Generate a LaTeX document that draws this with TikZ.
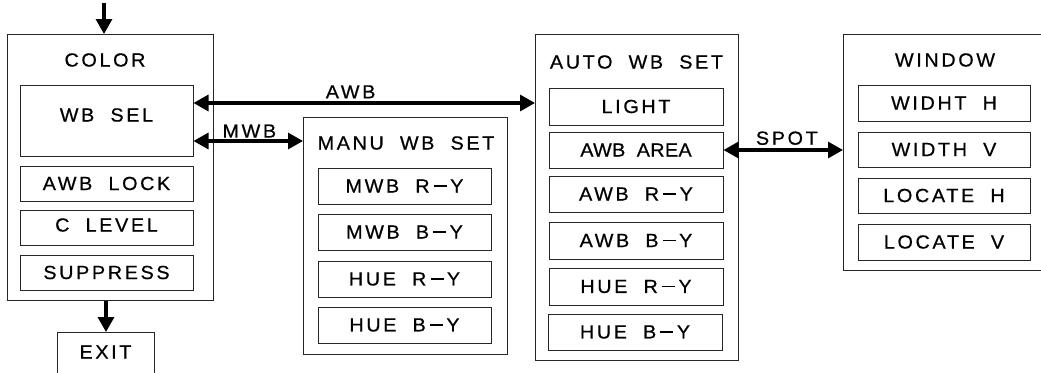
\documentclass[tikz,border=0pt]{standalone}
\usepackage{fontspec}
\setmainfont{Liberation Sans}[LetterSpace=14, FakeStretch=1.04, FakeBold=0.6]
\usetikzlibrary{arrows.meta,calc}
\newcommand\wsp{\hspace{0.85em}}
\newcommand\dsh{\hspace{0.22em}\rule[5.8pt]{13pt}{1.6pt}\hspace{0.18em}}
\begin{document}
\begin{tikzpicture}[x=1pt,y=-1pt,
  lbl/.style={font=\fontsize{19}{22}\selectfont, inner sep=0pt},
  obox/.style={draw=black!85, line width=1pt, anchor=north west, inner sep=0pt},
  ibox/.style={draw=black!85, line width=1pt, inner sep=0pt, font=\fontsize{19}{22}\selectfont},
  tip/.tip={Triangle[length=15pt,width=16pt]},
  arr/.style={line width=3.2pt, -tip},
  darr/.style={line width=3.2pt, tip-tip}]
\useasboundingbox (0,0) rectangle (1041,372);
% COLOR menu
\node[obox, minimum width=206pt, minimum height=266pt] (color) at (7,34) {};
\node[lbl] (colort) at (105,60) {COLOR};
\node[ibox, minimum width=173pt, minimum height=71pt] (wbsel) at (106.5,120.5) {};
\node[lbl] (wbselt) at (106.5,115) {WB\wsp SEL};
\node[ibox, minimum width=173pt, minimum height=35pt] (awblock) at (106.5,183.5) {AWB\wsp LOCK};
\node[ibox, minimum width=173pt, minimum height=35pt] (clevel) at (106.5,227.5) {};
\node[lbl] (clevelt) at (106.5,225) {C\wsp LEVEL};
\node[ibox, minimum width=173pt, minimum height=35pt] (suppress) at (106.5,272.5) {SUPPRESS};
% EXIT
\node[obox, minimum width=97pt, minimum height=50pt] (exit) at (57,332) {};
\node[lbl] (exitt) at (105.5,352) {EXIT};
% MANU WB SET
\node[obox, minimum width=204pt, minimum height=237pt] (manu) at (303,117) {};
\node[lbl] (manut) at (406,143) {MANU\wsp WB\wsp SET};
\node[ibox, minimum width=173pt, minimum height=36pt] (mwbr) at (404.5,186) {MWB\wsp R\dsh Y};
\node[ibox, minimum width=173pt, minimum height=36pt] (mwbb) at (404.5,232) {MWB\wsp B\dsh Y};
\node[ibox, minimum width=173pt, minimum height=36pt] (huermanu) at (404.5,279) {HUE\wsp R\dsh Y};
\node[ibox, minimum width=173pt, minimum height=36pt] (huebmanu) at (404.5,325) {HUE\wsp B\dsh Y};
% AUTO WB SET
\node[obox, minimum width=203pt, minimum height=326pt] (auto) at (535,34) {};
\node[lbl] (autot) at (636.5,62) {AUTO\wsp WB\wsp SET};
\node[ibox, minimum width=174pt, minimum height=37pt] (light) at (636,106.5) {LIGHT};
\node[ibox, minimum width=174pt, minimum height=36pt] (awbarea) at (636,150) {\addfontfeature{LetterSpace=2}AWB\hspace{0.6em}AREA};
\node[ibox, minimum width=174pt, minimum height=36pt] (awbr) at (636,194) {AWB\wsp R\dsh Y};
\node[ibox, minimum width=174pt, minimum height=37pt] (awbb) at (636,240.5) {AWB\wsp B\dsh Y};
\node[ibox, minimum width=174pt, minimum height=37pt] (huerauto) at (636,286.5) {HUE\wsp R\dsh Y};
\node[ibox, minimum width=174pt, minimum height=36pt] (huebauto) at (635,332) {HUE\wsp B\dsh Y};
% WINDOW
\node[obox, minimum width=205pt, minimum height=236pt] (window) at (843,34) {};
\node[lbl] (windowt) at (945,60) {WINDOW};
\node[ibox, minimum width=172pt, minimum height=36pt] (widhth) at (944,103) {WIDHT\wsp H};
\node[ibox, minimum width=172pt, minimum height=35pt] (widthv) at (944,149.5) {WIDTH\wsp V};
\node[ibox, minimum width=172pt, minimum height=35pt] (locateh) at (944,195.5) {LOCATE\wsp H};
\node[ibox, minimum width=172pt, minimum height=36pt] (locatev) at (944,242) {LOCATE\wsp V};
% connectors
\coordinate (entry) at (104,3);
\coordinate (awby) at (0,103);
\coordinate (mwby) at (0,141);
\draw[arr] (entry) -- (entry |- color.north);
\draw[arr] (exit.north |- color.south) -- (exit.north);
\draw[darr] (wbsel.east |- awby) -- (auto.west |- awby) node[lbl, pos=0.46, above=3pt] (awbl) {AWB};
\draw[darr] (wbsel.east |- mwby) -- (manu.west |- mwby) node[lbl, pos=0.51, above=1.8pt] (mwbl) {MWB};
\draw[darr] (awbarea.east) -- (window.west |- awbarea.east) node[lbl, pos=0.53, above=3.5pt] (spotl) {SPOT};
\end{tikzpicture}
\end{document}
